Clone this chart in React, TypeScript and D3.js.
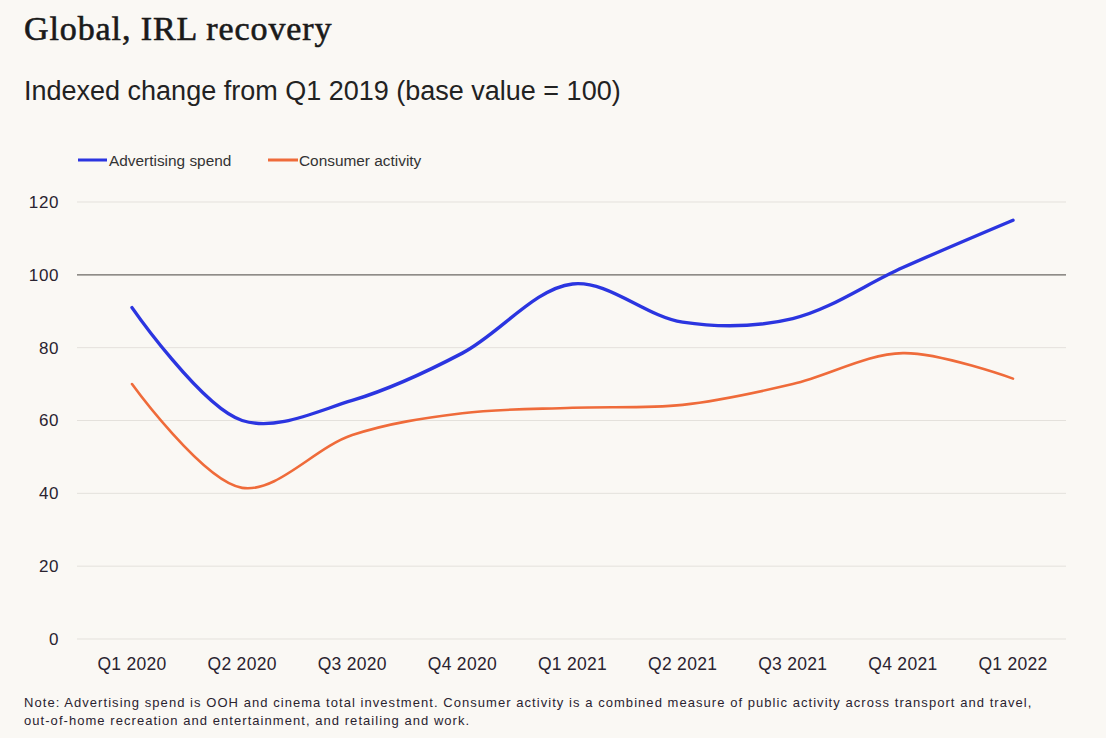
import * as d3 from "d3";

const quarters = [
  "Q1 2020",
  "Q2 2020",
  "Q3 2020",
  "Q4 2020",
  "Q1 2021",
  "Q2 2021",
  "Q3 2021",
  "Q4 2021",
  "Q1 2022",
];
const advertisingSpend = [91, 60, 65.5, 78.5, 97.5, 87, 88, 102, 115];
const consumerActivity = [70, 41.5, 56, 62, 63.5, 64.3, 70, 78.5, 71.5];
const yTicks = [0, 20, 40, 60, 80, 100, 120];

const width = 1106;
const height = 738;
const sans = "'Liberation Sans', Arial, sans-serif";
const ink = "#2a2330";

const App = () => {
  const x = d3.scalePoint().domain(quarters).range([132, 1013]);
  const y = d3.scaleLinear().domain([0, 120]).range([639, 202]);

  const line = d3
    .line<number>()
    .x((_, i) => x(quarters[i]))
    .y((d) => y(d))
    .curve(d3.curveCatmullRom.alpha(0.5));

  return (
    <svg
      width={width}
      height={height}
      style={{ position: "absolute", left: 0, top: 0, background: "#faf8f4" }}
    >
      <text
        x={24}
        y={40}
        fontFamily="'Liberation Serif', 'Times New Roman', serif"
        fontSize={34}
        letterSpacing={0.9}
        fill="#1a1a1a"
        stroke="#1a1a1a"
        strokeWidth={0.6}
      >
        Global, IRL recovery
      </text>
      <text x={24} y={100} fontFamily={sans} fontSize={27} fill="#222">
        Indexed change from Q1 2019 (base value = 100)
      </text>

      {/* legend */}
      <line x1={78} x2={107} y1={160} y2={160} stroke="#2b35e0" strokeWidth={3} />
      <text x={109} y={166} fontFamily={sans} fontSize={15.4} fill="#333">
        Advertising spend
      </text>
      <line x1={268} x2={298} y1={160} y2={160} stroke="#ef6b3a" strokeWidth={3} />
      <text x={299} y={166} fontFamily={sans} fontSize={15.4} fill="#333">
        Consumer activity
      </text>

      {yTicks.map((t) => (
        <g key={t}>
          <line
            x1={77}
            x2={1066}
            y1={y(t)}
            y2={y(t)}
            stroke={t === 100 ? "#6b6864" : "#e4e1dc"}
            strokeWidth={t === 100 ? 1.3 : 1}
          />
          <text
            x={59}
            y={y(t)}
            dy="0.35em"
            textAnchor="end"
            fontFamily={sans}
            fontSize={17}
            letterSpacing={0.6}
            fill={ink}
          >
            {t}
          </text>
        </g>
      ))}

      {quarters.map((q) => (
        <text
          key={q}
          x={x(q)}
          y={670}
          textAnchor="middle"
          fontFamily={sans}
          fontSize={17.5}
          letterSpacing={0.3}
          fill={ink}
        >
          {q}
        </text>
      ))}

      <path
        d={line(consumerActivity)}
        fill="none"
        stroke="#ef6b3a"
        strokeWidth={2.6}
        strokeLinecap="round"
      />
      <path
        d={line(advertisingSpend)}
        fill="none"
        stroke="#2b35e0"
        strokeWidth={3.4}
        strokeLinecap="round"
      />

      <text x={24} y={707} fontFamily={sans} fontSize={13} letterSpacing={1.05} fill={ink}>
        Note: Advertising spend is OOH and cinema total investment. Consumer activity is a combined measure of public activity across transport and travel,
      </text>
      <text x={24} y={725} fontFamily={sans} fontSize={13} letterSpacing={1.05} fill={ink}>
        out-of-home recreation and entertainment, and retailing and work.
      </text>
    </svg>
  );
};

export default App;
